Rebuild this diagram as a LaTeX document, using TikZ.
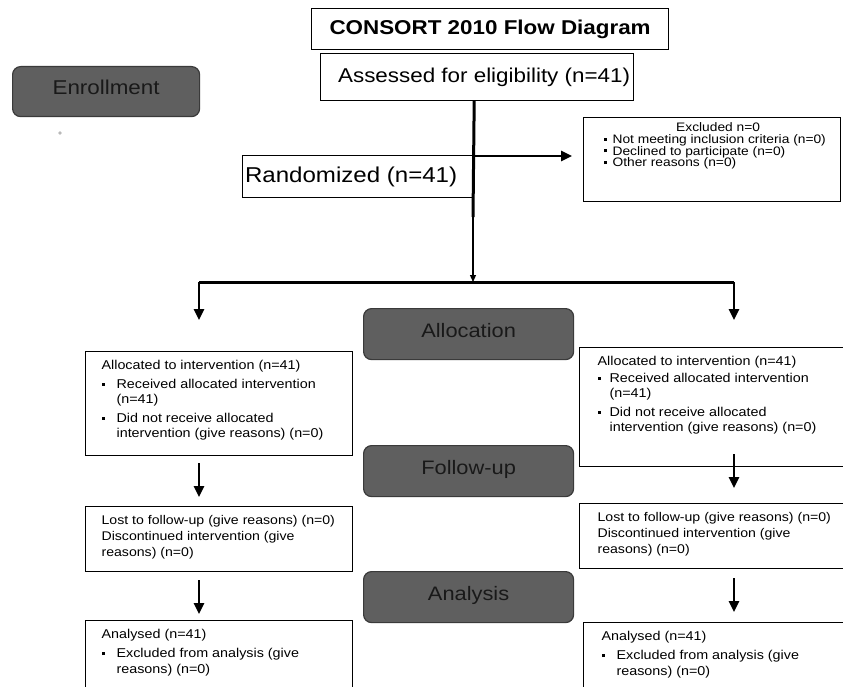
\documentclass[tikz,border=0pt]{standalone}
\usepackage{fontspec}
\setmainfont{Liberation Sans}[FakeStretch=1.12]
\usetikzlibrary{arrows.meta}
\definecolor{stagegray}{HTML}{5F5F5F}
\definecolor{stageline}{HTML}{3A3A3A}
\newcommand{\sqb}[1][15pt]{\makebox[#1][l]{\rule[0.22em]{3pt}{3pt}}}
\newcommand{\boxtext}[3]{\parbox[c][#1][t]{#2}{\raggedright #3}}

\begin{document}
\begin{tikzpicture}[x=1pt,y=-1pt,
   every node/.style={draw, line width=1.2pt, inner sep=0pt, anchor=north west},
   plainbox/.style={rectangle, align=center, font=\fontsize{20}{23}\selectfont},
   listbox/.style={rectangle, inner xsep=16pt, inner ysep=9pt, font=\fontsize{12.8}{15.5}\selectfont},
   stagebox/.style={rectangle, rounded corners=8pt, fill=stagegray, draw=stageline,
                    text=black!90, minimum width=210pt, minimum height=51pt,
                    text height=12pt, text depth=6pt,
                    font=\fontsize{19.5}{23}\selectfont},
   trunk/.style={line width=3pt},
   flow/.style={line width=2.5pt, -{Triangle[width=10pt,length=11pt]}}]

\clip (0,0) rectangle (843,687);

% enrollment
\node[plainbox, minimum width=357pt, minimum height=41pt, font=\fontsize{20}{23}\selectfont\bfseries]
     (title) at (311,8) {CONSORT 2010 Flow Diagram};
\node[plainbox, minimum width=313pt, minimum height=47pt] (assessed) at (320,53)
     {\hspace{14pt}Assessed for eligibility (n=41)};
\node[stagebox, minimum width=187pt, minimum height=50pt, font=\fontsize{20}{23}\selectfont]
     (enroll) at (12,66) {Enrollment};
\fill[gray!55] (60,133) circle (1.8pt);
\node[plainbox, minimum width=231pt, minimum height=42pt, font=\fontsize{21.5}{24}\selectfont]
     (random) at (242,155) {Randomized (n=41)\hspace{14pt}};
\node[listbox, inner xsep=10pt, inner ysep=5pt, font=\fontsize{12.3}{11.8}\selectfont] (excl) at (583,117)
     {\boxtext{74pt}{237pt}{\makebox[\linewidth]{\hspace{12pt}Excluded n=0}\\
      \hspace*{10pt}\sqb[9pt]Not meeting inclusion criteria (n=0)\\
      \hspace*{10pt}\sqb[9pt]Declined to participate (n=0)\\
      \hspace*{10pt}\sqb[9pt]Other reasons (n=0)}};

% allocation
\node[stagebox] (alloc) at (363,308) {Allocation};
\node[listbox] (lalloc) at (85,351)
     {\boxtext{86pt}{235pt}{Allocated to intervention (n=41)\\[3pt]
      \sqb Received allocated intervention\\
      \hspace*{15pt}(n=41)\\[3pt]
      \sqb Did not receive allocated\\
      \hspace*{15pt}intervention (give reasons) (n=0)}};
\node[listbox, inner xsep=18pt] (ralloc) at (579,347)
     {\boxtext{101pt}{234pt}{Allocated to intervention (n=41)\\[1pt]
      \sqb[12pt]Received allocated intervention\\
      \hspace*{12pt}(n=41)\\[3pt]
      \sqb[12pt]Did not receive allocated\\
      \hspace*{12pt}intervention (give reasons) (n=0)}};

% follow-up
\node[stagebox] (follow) at (363,445) {Follow-up};
\node[listbox, font=\fontsize{12.6}{16}\selectfont] (llost) at (85,506)
     {\boxtext{47pt}{235pt}{Lost to follow-up (give reasons) (n=0)\\
      Discontinued intervention (give\\
      reasons) (n=0)}};
\node[listbox, font=\fontsize{12.6}{16}\selectfont, inner xsep=18pt] (rlost) at (579,503)
     {\boxtext{47pt}{234pt}{Lost to follow-up (give reasons) (n=0)\\
      Discontinued intervention (give\\
      reasons) (n=0)}};

% analysis
\node[stagebox] (analysis) at (363,571) {Analysis};
\node[listbox, font=\fontsize{12.8}{16}\selectfont] (lanal) at (85,620)
     {\boxtext{62pt}{235pt}{Analysed (n=41)\\[3pt]
      \sqb Excluded from analysis (give\\
      \hspace*{15pt}reasons) (n=0)}};
\node[listbox, font=\fontsize{12.8}{16}\selectfont, inner xsep=18pt] (ranal) at (583,622)
     {\boxtext{62pt}{234pt}{Analysed (n=41)\\[3pt]
      \sqb Excluded from analysis (give\\
      \hspace*{15pt}reasons) (n=0)}};

% connectors
\coordinate (thin) at (473,217);
\coordinate (branch) at (473,156);
\coordinate (split) at (473,282);
\coordinate (lsplit) at (199,282);
\coordinate (rsplit) at (734,282);
\coordinate (ltip) at (199,320);
\coordinate (rtip) at (734,320);

\draw[trunk] (assessed.south -| random.east) -- (thin);
\draw[line width=1.2pt, -{Triangle[width=6pt,length=7pt]}] (thin) -- (split);
\draw[flow, shorten >=11pt] (branch) -- (branch -| excl.west);
\draw[trunk] (lsplit) -- (rsplit);
\draw[flow] (lsplit) -- (ltip);
\draw[flow] (rsplit) -- (rtip);

\draw[flow, shorten <=7pt, shorten >=9pt] (lalloc.south -| lsplit) -- (llost.north -| lsplit);
\draw[flow, shorten <=-13pt, shorten >=15pt] (ralloc.south -| rsplit) -- (rlost.north -| rsplit);
\draw[flow, shorten <=8pt, shorten >=6pt] (llost.south -| lsplit) -- (lanal.north -| lsplit);
\draw[flow, shorten <=9pt, shorten >=10pt] (rlost.south -| rsplit) -- (ranal.north -| rsplit);

\end{tikzpicture}
\end{document}
